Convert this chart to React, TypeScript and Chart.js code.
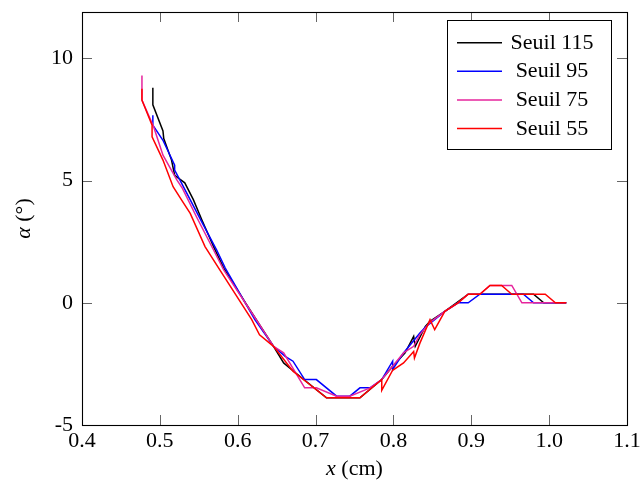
import React, { useEffect, useRef } from "react";
import { Chart, registerables } from "chart.js";

Chart.register(...registerables);

// ---- Data ----
const xTickValues = [0.4, 0.5, 0.6, 0.7, 0.8, 0.9, 1.0, 1.1];
const yTickValues = [-5, 0, 5, 10];

const seriesLabels = ["Seuil 115", "Seuil 95", "Seuil 75", "Seuil 55"];
const seriesColors = ["#000000", "#0000ff", "#e6249c", "#ff0000"];

const x115 = [0.491, 0.491, 0.504, 0.505, 0.515, 0.519, 0.532, 0.543, 0.554, 0.569, 0.582, 0.61, 0.646, 0.659, 0.669, 0.714, 0.744, 0.757, 0.785, 0.799, 0.815, 0.826, 0.828, 0.841, 0.847, 0.866, 0.881, 0.896, 0.98, 0.993, 1.022];
const y115 = [8.8, 8.1, 7.03, 6.72, 5.84, 5.22, 4.91, 4.22, 3.39, 2.3, 1.42, 0.0, -1.78, -2.46, -2.73, -3.89, -3.89, -3.89, -3.14, -2.6, -2.05, -1.37, -1.78, -0.97, -0.76, -0.35, 0, 0.35, 0.35, 0, 0];

const x95 = [0.491, 0.491, 0.504, 0.519, 0.519, 0.527, 0.556, 0.573, 0.584, 0.622, 0.646, 0.661, 0.671, 0.686, 0.701, 0.727, 0.744, 0.757, 0.77, 0.785, 0.799, 0.799, 0.813, 0.834, 0.841, 0.866, 0.883, 0.896, 0.911, 0.967, 0.98, 1.022];
const y95 = [7.67, 7.27, 6.65, 5.63, 5.43, 4.95, 3.18, 2.16, 1.42, -0.69, -1.78, -2.19, -2.39, -3.14, -3.14, -3.82, -3.82, -3.48, -3.48, -3.14, -2.39, -2.73, -2.05, -1.24, -1.0, -0.35, 0, 0, 0.35, 0.35, 0, 0];

const x75 = [0.477, 0.477, 0.492, 0.504, 0.522, 0.529, 0.547, 0.569, 0.582, 0.622, 0.646, 0.659, 0.686, 0.701, 0.727, 0.744, 0.77, 0.785, 0.799, 0.813, 0.826, 0.834, 0.847, 0.866, 0.883, 0.896, 0.911, 0.924, 0.952, 0.965, 1.022];
const y75 = [9.3, 8.3, 7.2, 6.04, 5.02, 4.68, 3.52, 2.16, 1.35, -0.6, -1.78, -2.05, -3.48, -3.48, -3.82, -3.82, -3.48, -3.14, -2.6, -2.05, -1.78, -1.3, -0.8, -0.35, 0, 0.35, 0.35, 0.71, 0.71, 0, 0];

const x55 = [0.477, 0.477, 0.49, 0.49, 0.504, 0.517, 0.528, 0.539, 0.558, 0.577, 0.618, 0.628, 0.646, 0.671, 0.714, 0.757, 0.785, 0.785, 0.799, 0.813, 0.826, 0.827, 0.834, 0.847, 0.853, 0.866, 0.883, 0.896, 0.911, 0.924, 0.939, 0.952, 0.995, 1.008, 1.022];
const y55 = [8.76, 8.29, 7.27, 6.79, 5.84, 4.75, 4.2, 3.66, 2.3, 1.35, -0.69, -1.31, -1.78, -2.8, -3.89, -3.89, -3.14, -3.58, -2.76, -2.46, -1.99, -2.26, -1.65, -0.69, -1.1, -0.35, 0, 0.35, 0.35, 0.71, 0.71, 0.35, 0.35, 0, 0];

const seriesX = [x115, x95, x75, x55];
const seriesY = [y115, y95, y75, y55];

const FONT = "'Liberation Serif', 'Times New Roman', serif";

export default function App() {
  const ref = useRef<HTMLCanvasElement>(null);

  useEffect(() => {
    document.body.style.margin = "0";
    const canvas = ref.current;
    if (!canvas) return;

    const pgfPlugin = {
      id: "pgfDecor",
      afterDraw(chart: any) {
        const ctx = chart.ctx as CanvasRenderingContext2D;
        const a = chart.chartArea;
        const xs = chart.scales.x;
        const ys = chart.scales.y;
        ctx.save();
        // inward ticks on all sides
        ctx.strokeStyle = "#666";
        ctx.lineWidth = 1;
        const tl = 10;
        ctx.beginPath();
        xTickValues.forEach((v) => {
          const px = Math.round(xs.getPixelForValue(v)) + 0.5;
          ctx.moveTo(px, a.bottom);
          ctx.lineTo(px, a.bottom - tl);
          ctx.moveTo(px, a.top);
          ctx.lineTo(px, a.top + tl);
        });
        yTickValues.forEach((v) => {
          const py = Math.round(ys.getPixelForValue(v)) + 0.5;
          ctx.moveTo(a.left, py);
          ctx.lineTo(a.left + tl, py);
          ctx.moveTo(a.right, py);
          ctx.lineTo(a.right - tl, py);
        });
        ctx.stroke();
        // frame
        ctx.strokeStyle = "#000";
        ctx.lineWidth = 1.1;
        ctx.strokeRect(Math.round(a.left) + 0.5, Math.round(a.top) + 0.5, Math.round(a.right - a.left), Math.round(a.bottom - a.top));

        // axis titles
        ctx.fillStyle = "#000";
        ctx.textBaseline = "alphabetic";
        const cx = (a.left + a.right) / 2;
        ctx.font = `italic 22px ${FONT}`;
        const wX = ctx.measureText("x").width;
        ctx.font = `22px ${FONT}`;
        const wRest = ctx.measureText(" (cm)").width;
        const sx = cx - (wX + wRest) / 2;
        ctx.textAlign = "left";
        ctx.font = `italic 22px ${FONT}`;
        ctx.fillText("x", sx, 475);
        ctx.font = `22px ${FONT}`;
        ctx.fillText(" (cm)", sx + wX, 475);

        ctx.save();
        ctx.translate(30, (a.top + a.bottom) / 2);
        ctx.rotate(-Math.PI / 2);
        ctx.font = `italic 22px ${FONT}`;
        const wA = ctx.measureText("α").width;
        ctx.font = `22px ${FONT}`;
        const wB = ctx.measureText(" (°)").width;
        const s0 = -(wA + wB) / 2;
        ctx.font = `italic 22px ${FONT}`;
        ctx.fillText("α", s0, 0);
        ctx.font = `22px ${FONT}`;
        ctx.fillText(" (°)", s0 + wA, 0);
        ctx.restore();

        // legend
        const lx0 = 447.5, ly0 = 20.5, lx1 = 611.5, ly1 = 149.5;
        ctx.fillStyle = "#fff";
        ctx.fillRect(lx0, ly0, lx1 - lx0, ly1 - ly0);
        ctx.strokeStyle = "#000";
        ctx.lineWidth = 1;
        ctx.strokeRect(lx0, ly0, lx1 - lx0, ly1 - ly0);
        chart.data.datasets.forEach((ds: any, i: number) => {
          const rowY = 42.7 + i * 28.6;
          ctx.strokeStyle = ds.borderColor;
          ctx.lineWidth = 1.5;
          ctx.beginPath();
          ctx.moveTo(457, rowY);
          ctx.lineTo(502, rowY);
          ctx.stroke();
          ctx.fillStyle = "#000";
          ctx.font = `22px ${FONT}`;
          ctx.textAlign = "center";
          ctx.fillText(ds.label, 552, rowY + 6);
        });
        ctx.restore();
      },
    };

    const datasets = seriesLabels.map((label, i) => ({
      label,
      data: seriesX[i].map((x, j) => ({ x, y: seriesY[i][j] })),
      borderColor: seriesColors[i],
      backgroundColor: seriesColors[i],
      borderWidth: 1.5,
      pointRadius: 0,
      tension: 0,
      fill: false,
      order: seriesLabels.length - 1 - i,
    }));

    const chart = new Chart(canvas, {
      type: "line",
      data: { datasets },
      options: {
        animation: false,
        responsive: false,
        devicePixelRatio: 1,
        layout: { padding: { top: 12, right: 13, left: 0, bottom: 0 } },
        plugins: { legend: { display: false }, tooltip: { enabled: false } },
        scales: {
          x: {
            type: "linear",
            min: 0.4,
            max: 1.1,
            afterBuildTicks: (s: any) => {
              s.ticks = xTickValues.map((v) => ({ value: v }));
            },
            afterFit: (s: any) => {
              s.height = 57;
              s.paddingLeft = 0;
              s.paddingRight = 0;
              s.paddingTop = 0;
              s.paddingBottom = 0;
            },
            grid: { display: false, drawTicks: false },
            border: { display: false },
            ticks: {
              color: "#000",
              font: { family: FONT, size: 22 },
              padding: 3,
              maxRotation: 0,
              autoSkip: false,
              callback: (v: any) => Number(v).toFixed(1),
            },
          },
          y: {
            type: "linear",
            min: -5,
            max: 11.9,
            afterBuildTicks: (s: any) => {
              s.ticks = yTickValues.map((v) => ({ value: v }));
            },
            afterFit: (s: any) => {
              s.width = 82;
              s.paddingLeft = 0;
              s.paddingRight = 0;
              s.paddingTop = 0;
              s.paddingBottom = 0;
            },
            grid: { display: false, drawTicks: false },
            border: { display: false },
            ticks: {
              color: "#000",
              font: { family: FONT, size: 22 },
              padding: 9,
              autoSkip: false,
              callback: (v: any) => String(v),
            },
          },
        },
      },
      plugins: [pgfPlugin],
    });
    return () => chart.destroy();
  }, []);

  return <canvas ref={ref} width={640} height={482} style={{ display: "block" }} />;
}
